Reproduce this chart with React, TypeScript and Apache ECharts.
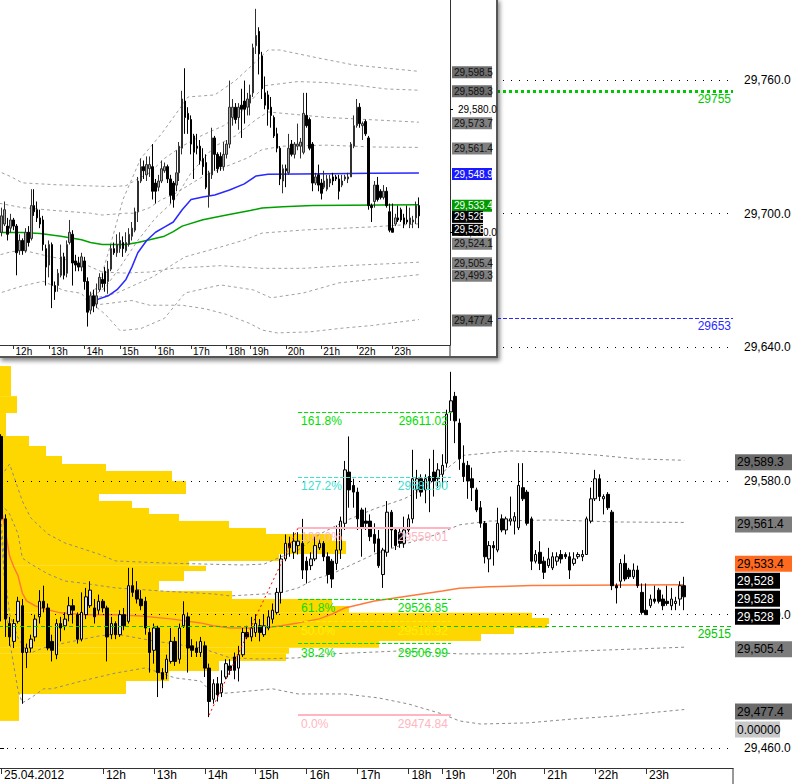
import React, { useEffect, useRef } from 'react';
import * as echarts from 'echarts';

// ---------------- data ----------------
// 5-minute bars of 25.04.2012: [open, high, low, close]
const candles: number[][] = [
  [29600, 29601, 29517, 29563], [29563, 29565, 29510, 29518], [29516, 29519, 29506, 29510], [29508, 29518, 29505, 29516],
  [29517, 29528, 29516, 29526], [29524, 29527, 29480, 29503], [29503, 29507, 29496, 29505], [29505, 29511, 29503, 29509],
  [29510, 29520, 29508, 29518], [29519, 29531, 29516, 29526], [29526, 29533, 29521, 29523], [29523, 29525, 29504, 29505],
  [29508, 29511, 29499, 29504], [29502, 29518, 29500, 29516], [29516, 29519, 29508, 29514], [29515, 29521, 29513, 29518],
  [29520, 29528, 29517, 29524], [29524, 29527, 29516, 29522], [29520, 29521, 29507, 29509], [29509, 29530, 29508, 29521],
  [29520, 29532, 29518, 29528], [29524, 29535, 29523, 29531], [29523, 29527, 29516, 29519], [29522, 29529, 29520, 29526],
  [29526, 29527, 29521, 29523], [29523, 29524, 29499, 29510], [29511, 29519, 29509, 29516], [29516, 29517, 29509, 29511],
  [29511, 29522, 29510, 29520], [29520, 29523, 29513, 29515], [29517, 29541, 29516, 29533], [29533, 29541, 29528, 29530],
  [29531, 29535, 29525, 29527], [29527, 29531, 29522, 29524], [29526, 29528, 29511, 29514], [29512, 29514, 29494, 29503],
  [29504, 29516, 29498, 29514], [29514, 29515, 29483, 29494], [29494, 29496, 29487, 29491], [29494, 29502, 29491, 29500],
  [29499, 29514, 29498, 29508], [29508, 29510, 29497, 29499], [29500, 29516, 29498, 29514], [29515, 29526, 29514, 29520],
  [29519, 29521, 29494, 29505], [29506, 29509, 29501, 29504], [29505, 29508, 29501, 29503], [29503, 29510, 29501, 29508],
  [29506, 29508, 29492, 29496], [29496, 29498, 29474, 29481], [29482, 29491, 29480, 29489], [29489, 29492, 29481, 29484],
  [29485, 29495, 29483, 29489], [29492, 29500, 29491, 29498], [29497, 29500, 29493, 29495], [29501, 29503, 29491, 29495],
  [29496, 29506, 29490, 29502], [29502, 29514, 29501, 29512], [29512, 29515, 29509, 29510], [29510, 29519, 29508, 29514],
  [29512, 29520, 29510, 29516], [29515, 29518, 29508, 29512], [29511, 29520, 29510, 29515], [29514, 29522, 29513, 29519],
  [29518, 29525, 29516, 29522], [29521, 29532, 29520, 29530], [29530, 29547, 29525, 29545], [29545, 29556, 29544, 29552],
  [29552, 29555, 29546, 29550], [29548, 29557, 29545, 29553], [29551, 29557, 29547, 29553], [29552, 29563, 29536, 29540],
  [29544, 29546, 29534, 29540], [29542, 29548, 29540, 29545], [29545, 29555, 29544, 29551], [29550, 29554, 29549, 29552],
  [29552, 29553, 29544, 29546], [29546, 29548, 29534, 29538], [29544, 29545, 29532, 29536], [29543, 29560, 29540, 29549],
  [29549, 29564, 29545, 29562], [29561, 29589, 29558, 29585], [29584, 29600, 29568, 29576], [29578, 29581, 29568, 29575],
  [29575, 29577, 29558, 29563], [29567, 29568, 29546, 29559], [29562, 29568, 29558, 29561], [29562, 29565, 29553, 29555],
  [29556, 29561, 29548, 29552], [29554, 29558, 29541, 29542], [29538, 29550, 29532, 29549], [29548, 29571, 29546, 29566],
  [29566, 29567, 29550, 29558], [29558, 29559, 29549, 29551], [29557, 29559, 29550, 29552], [29552, 29564, 29550, 29558],
  [29558, 29565, 29556, 29563], [29563, 29594, 29561, 29581], [29576, 29585, 29572, 29581], [29581, 29583, 29573, 29575],
  [29576, 29583, 29570, 29581], [29582, 29590, 29566, 29580], [29584, 29594, 29573, 29580], [29581, 29588, 29577, 29585],
  [29583, 29592, 29577, 29587], [29588, 29612, 29586, 29610], [29611, 29629, 29607, 29616], [29618, 29620, 29597, 29607],
  [29606, 29608, 29585, 29590], [29588, 29596, 29580, 29582], [29587, 29589, 29572, 29580], [29581, 29586, 29571, 29577],
  [29576, 29577, 29566, 29567], [29568, 29571, 29559, 29561], [29561, 29562, 29543, 29546], [29545, 29553, 29539, 29551],
  [29551, 29553, 29542, 29550], [29549, 29568, 29548, 29561], [29563, 29565, 29557, 29558], [29558, 29564, 29556, 29563],
  [29562, 29573, 29560, 29563], [29562, 29566, 29556, 29564], [29559, 29588, 29558, 29578], [29577, 29588, 29571, 29572],
  [29575, 29576, 29560, 29561], [29563, 29564, 29540, 29544], [29544, 29549, 29543, 29547], [29548, 29553, 29540, 29543],
  [29544, 29546, 29536, 29539], [29542, 29550, 29541, 29545], [29541, 29548, 29540, 29546], [29544, 29548, 29542, 29546],
  [29547, 29549, 29543, 29545], [29547, 29548, 29545, 29546], [29546, 29548, 29536, 29540], [29543, 29548, 29542, 29545],
  [29546, 29548, 29545, 29547], [29546, 29549, 29544, 29547], [29547, 29564, 29547, 29563], [29562, 29577, 29561, 29572],
  [29572, 29585, 29571, 29581], [29581, 29583, 29571, 29573], [29572, 29574, 29565, 29573], [29574, 29575, 29567, 29568],
  [29566, 29567, 29531, 29533], [29533, 29534, 29525, 29532], [29535, 29545, 29532, 29543], [29543, 29547, 29535, 29536],
  [29540, 29541, 29536, 29537], [29537, 29543, 29536, 29540], [29540, 29542, 29532, 29533], [29530, 29534, 29520, 29521],
  [29522, 29534, 29520, 29520], [29524, 29529, 29523, 29527], [29527, 29533, 29525, 29526], [29531, 29532, 29525, 29526],
  [29527, 29529, 29522, 29524], [29526, 29533, 29524, 29525], [29524, 29532, 29522, 29527], [29525, 29528, 29522, 29526],
  [29527, 29535, 29524, 29533], [29533, 29537, 29522, 29528],
];

// time axis labels: [bar index, label]
const hourTicks: [number, string][] = [
  [0, '25.04.2012'], [24, '12h'], [36, '13h'], [48, '14h'], [60, '15h'], [72, '16h'], [84, '17h'],
  [96, '18h'], [104, '19h'], [116, '20h'], [128, '21h'], [140, '22h'], [152, '23h'],
];

const mainPriceTicks = [29460, 29520, 29580, 29640, 29700, 29760];
const insetPriceTicks = [29520, 29580];

// session VWAP (orange in main chart, green in inset): [bar index, price]
const vwapSession: number[][] = [
  [0, 29568], [1, 29557.6], [2, 29546.3], [3, 29541.4], [4, 29537.4], [5, 29529.7], [6, 29526.2], [8, 29524],
  [10, 29522.6], [14, 29520.8], [20, 29519.9], [27, 29519.9], [33, 29519.4], [40, 29518.1], [47, 29516.3],
  [50, 29515], [54, 29514], [62, 29514], [66, 29515], [70, 29516.3], [75, 29518.1], [78, 29520.3], [81, 29523],
  [88, 29526.1], [96, 29528.4], [104, 29530.6], [108, 29531.8], [115, 29532.5], [125, 29533.1], [161, 29533.4],
];
const sessionUpper2: number[][] = [
  [0, 29582.2], [2, 29587.6], [5, 29571], [7, 29563.4], [11, 29556.2], [15, 29552.2], [23, 29547.2], [27, 29544.1],
  [38, 29543.2], [48, 29542.7], [57, 29542.3], [62, 29542.7], [66, 29546], [70, 29549], [75, 29556], [81, 29562],
  [88, 29567.5], [95, 29572], [100, 29577], [103, 29582], [106, 29587], [109, 29591.5], [120, 29593.5], [130, 29593],
  [140, 29591.7], [150, 29589.9], [161, 29589.3],
];
const sessionUpper1: number[][] = [
  [0, 29569.7], [2, 29565.2], [4, 29556.2], [5, 29545.4], [7, 29542.7], [11, 29538.3], [15, 29535.1], [19, 29534.2],
  [27, 29532], [38, 29530.6], [50, 29529.3], [54, 29528.4], [62, 29529.3], [65, 29529.3], [70, 29532], [74, 29536],
  [78, 29538.3], [81, 29541], [88, 29547.2], [96, 29552.2], [103, 29556.2], [108, 29560.3], [115, 29562],
  [130, 29562.5], [145, 29561.6], [161, 29561.4],
];
const sessionLower1: number[][] = [
  [0, 29563.4], [1, 29536.5], [2, 29520.3], [4, 29509.5], [6, 29503.7], [7, 29502.8], [10, 29505.1], [15, 29507.3],
  [23, 29510.4], [27, 29511.3], [36, 29508.2], [47, 29505.1], [54, 29500.6], [61, 29500.1], [70, 29500.6],
  [78, 29502.4], [94, 29503.7], [108, 29502.4], [122, 29502.4], [136, 29503.7], [150, 29504.6], [161, 29505.4],
];
const sessionLower2: number[][] = [
  [0, 29557.6], [1, 29529.3], [2, 29508.2], [3, 29497], [4, 29485.8], [5, 29480.4], [7, 29482.6], [10, 29486.7],
  [12, 29486.7], [19, 29490.2], [27, 29493.8], [34, 29496.1], [41, 29491.6], [47, 29490.2], [50, 29484.4],
  [54, 29484.9], [64, 29486.7], [70, 29484.4], [81, 29484.4], [89, 29482.6], [96, 29479.9], [104, 29475.4],
  [108, 29472.3], [113, 29470.9], [124, 29471.4], [135, 29473.2], [145, 29474.5], [161, 29477.4],
];

// VWAP anchored at the 14h low (blue, inset only) and its bands
const vwapFrom14h: number[][] = [
  [49, 29485], [52, 29487], [56, 29489], [59, 29492], [62, 29497], [64, 29503], [66, 29510], [69, 29516],
  [72, 29520], [75, 29522.5], [78, 29525], [81, 29531], [84, 29536], [88, 29537.2], [92, 29538.2], [97, 29540.6],
  [102, 29543.6], [106, 29547.5], [110, 29548.3], [130, 29548.6], [145, 29548.8], [161, 29548.9],
];
const anchoredUpper2: number[][] = [
  [49, 29487], [53, 29495], [57, 29515], [61, 29536], [67, 29556], [74, 29568], [83, 29586], [92, 29587],
  [99, 29594], [105, 29602], [110, 29608.9], [114, 29608.9], [127, 29605], [139, 29601.6], [161, 29598.5],
];
const anchoredUpper1: number[][] = [
  [49, 29487], [55, 29493], [60, 29503], [66, 29516], [72, 29527], [78, 29535], [84, 29549], [92, 29562],
  [99, 29567], [106, 29575], [110, 29578.7], [130, 29576], [161, 29573.7],
];
const anchoredLower1: number[][] = [
  [49, 29487], [59, 29490.4], [71, 29498.2], [82, 29508], [94, 29512.8], [102, 29516.2], [108, 29519.6],
  [122, 29521.1], [145, 29522.6], [161, 29524.1],
];
const anchoredLower2: number[][] = [
  [49, 29487], [55, 29480], [60, 29472], [67, 29473], [75, 29478], [82, 29490.4], [94, 29494.3], [105, 29491.9],
  [111, 29488], [122, 29490.4], [134, 29495.3], [161, 29499.3],
];

// volume profile: [low price, high price, volume]
const profileRows: number[][] = [
  [29618.1, 29631.6, 12], [29610.5, 29618.1, 18], [29600.2, 29610.5, 7], [29595.7, 29600.2, 30],
  [29591.2, 29595.7, 47], [29587.6, 29591.2, 63], [29584.5, 29587.6, 107], [29580, 29584.5, 173],
  [29574.2, 29580, 187], [29571, 29574.2, 100], [29567.9, 29571, 133], [29565.2, 29567.9, 150],
  [29562, 29565.2, 180], [29558.9, 29562, 230], [29556.2, 29558.9, 267], [29553.1, 29556.2, 333],
  [29547.2, 29553.1, 347], [29544.1, 29547.2, 280], [29541.9, 29544.1, 190], [29539.6, 29541.9, 207],
  [29535.1, 29539.6, 185], [29530.6, 29535.1, 160], [29527, 29530.6, 233], [29523.9, 29527, 333],
  [29520.8, 29523.9, 350], [29518.5, 29520.8, 533], [29515.8, 29518.5, 550], [29514, 29515.8, 548],
  [29511.3, 29514, 515], [29508.2, 29511.3, 482], [29505.1, 29508.2, 380], [29502.4, 29505.1, 290],
  [29499.2, 29502.4, 287], [29494.7, 29499.2, 220], [29490.2, 29494.7, 170], [29484.4, 29490.2, 127],
  [29472.3, 29484.4, 20],
];

// Fibonacci retracement / extension
const fibRatios = ['161.8%', '127.2%', '100.0%', '61.8%', '50.0%', '38.2%', '0.0%'];
const fibPrices = [29611.02, 29581.9, 29559.01, 29526.85, 29516.92, 29506.99, 29474.84];
const fibAnchorBars = [49, 70, 106]; // low bar, high bar, end of levels

// horizontal alert levels
const alertLevels = [29755, 29653, 29515];

// price markers on the right scales
const mainMarkerValues = [29589.3, 29561.4, 29533.4, 29528, 29528, 29528, 29505.4, 29477.4];
const insetMarkerValues = [29598.5, 29589.3, 29573.7, 29561.4, 29548.9, 29533.4, 29528, 29528, 29524.1, 29505.4, 29499.3, 29477.4];

// ---------------- styles ----------------
const FONT = 'Liberation Sans, Arial, sans-serif';
const fmt = (v: number, d: number) =>
  v.toLocaleString('en-US', { minimumFractionDigits: d, maximumFractionDigits: d });

const fibColors = ['#00e000', '#40e0d0', '#ffb6c1', '#00e000', '#ffee00', '#00e000', '#ffb6c1'];
const fibSolid = [false, false, true, false, false, false, true];
const alertColors = ['#00c800', '#2a2aff', '#00c800'];
const alertStyles: any[] = [
  { type: [3, 3], width: 3 },
  { type: [4, 2], width: 1 },
  { type: [4, 3], width: 1 },
];

const mainMarkerStyle = [
  { bg: '#6b6b6b', fg: '#000', d: 1, w: 57, dy: 2 },
  { bg: '#7c7c7c', fg: '#000', d: 1, w: 57, dy: 2 },
  { bg: '#ff6a1f', fg: '#000', d: 1, w: 57, dy: -21 },
  { bg: '#000', fg: '#fff', d: 0, w: 45, dy: -16 },
  { bg: '#000', fg: '#fff', d: 0, w: 45, dy: 2 },
  { bg: '#000', fg: '#fff', d: 0, w: 45, dy: 20 },
  { bg: '#7c7c7c', fg: '#000', d: 1, w: 57, dy: 2 },
  { bg: '#6b6b6b', fg: '#000', d: 1, w: 57, dy: 2 },
];
const insetMarkerStyle = [
  { bg: '#6e6e6e', fg: '#111', d: 1, w: 40, dy: 1 },
  { bg: '#6e6e6e', fg: '#111', d: 1, w: 40, dy: 1 },
  { bg: '#808080', fg: '#111', d: 1, w: 40, dy: 1 },
  { bg: '#808080', fg: '#111', d: 1, w: 40, dy: 1 },
  { bg: '#1a1aff', fg: '#fff', d: 1, w: 40, dy: 1 },
  { bg: '#009a00', fg: '#fff', d: 1, w: 40, dy: 1 },
  { bg: '#000', fg: '#fff', d: 0, w: 31, dy: 1 },
  { bg: '#000', fg: '#fff', d: 0, w: 31, dy: 14 },
  { bg: '#808080', fg: '#111', d: 1, w: 40, dy: 20 },
  { bg: '#808080', fg: '#111', d: 1, w: 40, dy: 1 },
  { bg: '#808080', fg: '#111', d: 1, w: 40, dy: 1 },
  { bg: '#6e6e6e', fg: '#111', d: 1, w: 40, dy: 1 },
];

const N_MAIN = 173;
const N_INSET = 172;
const mainCats = Array.from({ length: N_MAIN }, (_, i) => String(i));
const insetCats = Array.from({ length: N_INSET }, (_, i) => String(i));
const tickMap = new Map<number, string>(hourTicks);
const insetTickMap = new Map<number, string>(hourTicks.filter(([i]) => i > 0));

function lineSeries(data: number[][], axis: number, color: string, width: number, type: any, z: number) {
  return {
    type: 'line', xAxisIndex: axis, yAxisIndex: axis, data, symbol: 'none', silent: true, z,
    lineStyle: { color, width, type }, animation: false,
  };
}

function buildOption(): any {
  const ec = candles.map(([o, h, l, c]) => [o, c, l, h]);

  const gridMarks = mainPriceTicks.map((v) => ({
    yAxis: v, lineStyle: { color: '#000', type: [1, 7], width: 1 }, label: { show: false },
  }));
  const alertMarks = alertLevels.map((v, k) => ({
    yAxis: v,
    lineStyle: { color: alertColors[k], ...alertStyles[k] },
    label: {
      show: true, position: 'insideEndBottom', formatter: String(v), color: alertColors[k],
      fontSize: 12, fontFamily: FONT, distance: 2,
    },
  }));
  const [lowBar, highBar, endBar] = fibAnchorBars;
  const fibMarks: any[] = [];
  fibPrices.forEach((p, k) => {
    const ls = { color: fibColors[k], type: fibSolid[k] ? 'solid' : [4, 2], width: fibSolid[k] ? 2 : 1 };
    fibMarks.push([
      { coord: [highBar, p], lineStyle: ls, label: { show: true, position: 'insideStartBottom', formatter: fibRatios[k], color: fibColors[k], fontSize: 12, fontFamily: FONT, distance: 3 } },
      { coord: [endBar, p] },
    ]);
    fibMarks.push([
      { coord: [highBar, p], lineStyle: ls, label: { show: true, position: 'insideEndBottom', formatter: p.toFixed(2), color: fibColors[k], fontSize: 12, fontFamily: FONT, distance: 3 } },
      { coord: [endBar, p] },
    ]);
  });
  const redLine = [
    { coord: [lowBar, fibPrices[6]], lineStyle: { color: '#ff0000', type: [2, 3], width: 1 }, label: { show: false } },
    { coord: [highBar, fibPrices[2]] },
  ];

  const bandGray = '#8a8a8a';
  const insetGray = '#a0a0a0';

  return {
    animation: false,
    backgroundColor: '#ffffff',
    grid: [
      { left: -1, top: 0, width: 734, height: 768, outerBoundsMode: 'none', containLabel: false },
      { left: -59, top: 0, width: 509, height: 345, outerBoundsMode: 'none', containLabel: false },
    ],
    xAxis: [
      {
        type: 'category', gridIndex: 0, data: mainCats, boundaryGap: true,
        axisLine: { show: true, lineStyle: { color: '#333', width: 1 } },
        axisTick: { show: true, alignWithLabel: true, interval: (i: number) => tickMap.has(i), length: 6, lineStyle: { color: '#333' } },
        axisLabel: {
          interval: (i: number) => tickMap.has(i), formatter: (_v: string, i: number) => tickMap.get(i) || '',
          align: 'left', margin: 1, padding: [0, 0, 0, 3], fontSize: 12, color: '#000', fontFamily: FONT,
        },
        splitLine: { show: false },
      },
      {
        type: 'category', gridIndex: 1, data: insetCats, boundaryGap: true, z: 12,
        axisLine: { show: true, lineStyle: { color: '#333', width: 1 } },
        axisTick: { show: true, alignWithLabel: true, interval: (i: number) => insetTickMap.has(i), length: 4, lineStyle: { color: '#333' } },
        axisLabel: {
          interval: (i: number) => insetTickMap.has(i), formatter: (_v: string, i: number) => insetTickMap.get(i) || '',
          align: 'left', margin: 1, padding: [0, 0, 0, 2], fontSize: 10, color: '#000', fontFamily: FONT,
        },
        splitLine: { show: false },
      },
      { type: 'value', gridIndex: 0, min: 0, max: 734, show: false },
    ],
    yAxis: [
      {
        type: 'value', gridIndex: 0, position: 'right', min: 29451.16, max: 29795.91,
        axisLine: { show: true, lineStyle: { color: '#333', width: 1 } },
        axisTick: { show: true, customValues: mainPriceTicks, length: 5, lineStyle: { color: '#000' } },
        axisLabel: { customValues: mainPriceTicks, formatter: (v: number) => fmt(v, 1), margin: 11, fontSize: 12, color: '#000', fontFamily: FONT },
        splitLine: { show: false },
      },
      {
        type: 'value', gridIndex: 1, position: 'right', min: 29465.0, max: 29633.3, z: 12,
        axisLine: { show: true, lineStyle: { color: '#333', width: 1 } },
        axisTick: { show: true, customValues: insetPriceTicks, length: 3, lineStyle: { color: '#000' } },
        axisLabel: { customValues: insetPriceTicks, formatter: (v: number) => fmt(v, 1), margin: 8, fontSize: 10, color: '#000', fontFamily: FONT },
        splitLine: { show: false },
      },
    ],
    series: [
      {
        type: 'custom', xAxisIndex: 2, yAxisIndex: 0, z: 1, silent: true,
        data: profileRows, encode: { x: 2, y: [0, 1] },
        renderItem: (_p: any, api: any) => {
          const lo = api.value(0), hi = api.value(1), v = api.value(2);
          const a = api.coord([0, hi]);
          const b = api.coord([v, lo]);
          return { type: 'rect', shape: { x: a[0], y: a[1], width: b[0] - a[0], height: b[1] - a[1] }, style: { fill: '#ffd700' } };
        },
      },
      lineSeries(sessionUpper2, 0, bandGray, 1, [3, 3], 2),
      lineSeries(sessionUpper1, 0, bandGray, 1, [3, 3], 2),
      lineSeries(sessionLower1, 0, bandGray, 1, [3, 3], 2),
      lineSeries(sessionLower2, 0, bandGray, 1, [3, 3], 2),
      lineSeries(vwapSession, 0, '#ff7a3a', 1.5, 'solid', 2),
      {
        type: 'candlestick', xAxisIndex: 0, yAxisIndex: 0, data: ec, barWidth: 3, z: 3, silent: true,
        itemStyle: { color: '#e4e4e4', color0: '#000', borderColor: '#000', borderColor0: '#000', borderColorDoji: '#000', borderWidth: 1 },
        markLine: {
          silent: true, symbol: ['none', 'none'], animation: false,
          data: [...gridMarks, ...alertMarks, ...fibMarks, redLine],
        },
      },
      // inset
      lineSeries(sessionUpper2, 1, insetGray, 1, [3, 3], 12),
      lineSeries(sessionUpper1, 1, insetGray, 1, [3, 3], 12),
      lineSeries(sessionLower1, 1, insetGray, 1, [3, 3], 12),
      lineSeries(sessionLower2, 1, insetGray, 1, [3, 3], 12),
      lineSeries(anchoredUpper2, 1, insetGray, 1, [3, 3], 12),
      lineSeries(anchoredUpper1, 1, insetGray, 1, [3, 3], 12),
      lineSeries(anchoredLower1, 1, insetGray, 1, [3, 3], 12),
      lineSeries(anchoredLower2, 1, insetGray, 1, [3, 3], 12),
      lineSeries(vwapSession, 1, '#00a000', 1.5, 'solid', 13),
      lineSeries(vwapFrom14h, 1, '#2828ff', 1.5, 'solid', 13),
      {
        type: 'candlestick', xAxisIndex: 1, yAxisIndex: 1, data: ec, barWidth: 2, z: 14, silent: true,
        itemStyle: { color: '#a8a8a8', color0: '#000', borderColor: '#303030', borderColor0: '#000', borderColorDoji: '#000', borderWidth: 1 },
        markLine: {
          silent: true, symbol: ['none', 'none'], animation: false,
          data: insetPriceTicks.map((v) => ({ yAxis: v, lineStyle: { color: '#000', type: [1, 6], width: 1 }, label: { show: false } })),
        },
      },
    ],
  };
}

function markerBoxes(chart: any, axis: number, values: number[], styles: any[], x: number, h: number, fs: number, idp: string) {
  return values.map((v, k) => {
    const s = styles[k];
    const y = chart.convertToPixel({ yAxisIndex: axis }, v) + s.dy;
    return {
      type: 'group', id: idp + k, z: 30,
      children: [
        { type: 'rect', z: 30, shape: { x, y: y - h / 2, width: s.w, height: h }, style: { fill: s.bg } },
        { type: 'text', z: 31, x: x + 2, y, style: { text: fmt(v, s.d), fill: s.fg, fontSize: fs, fontFamily: FONT, verticalAlign: 'middle', align: 'left' } },
      ],
    };
  });
}

export default function App() {
  const ref = useRef<HTMLDivElement>(null);
  useEffect(() => {
    const chart = echarts.init(ref.current!, undefined, { renderer: 'svg' });
    chart.setOption(buildOption());
    const statics: any[] = [
      {
        type: 'rect', id: 'insetBg', z: 10, shape: { x: -2, y: -2, width: 499, height: 360 },
        style: { fill: '#fff', shadowBlur: 4, shadowColor: 'rgba(0,0,0,0.45)', shadowOffsetX: 3, shadowOffsetY: 3 },
      },
      { type: 'line', id: 'insetR', z: 11, shape: { x1: 497, y1: 0, x2: 497, y2: 358 }, style: { stroke: '#555', lineWidth: 2 } },
      { type: 'line', id: 'insetB', z: 11, shape: { x1: 0, y1: 357, x2: 497, y2: 357 }, style: { stroke: '#555', lineWidth: 2 } },
      { type: 'line', id: 'insetSep', z: 11, shape: { x1: 450, y1: 345, x2: 450, y2: 356 }, style: { stroke: '#333', lineWidth: 1 } },
      { type: 'line', id: 'mainAxisExt', z: 5, shape: { x1: 733, y1: 768, x2: 733, y2: 784 }, style: { stroke: '#333', lineWidth: 1 } },
    ];
    const boxes = [
      ...markerBoxes(chart, 0, mainMarkerValues, mainMarkerStyle, 735, 16, 12, 'mb'),
      ...markerBoxes(chart, 1, insetMarkerValues, insetMarkerStyle, 452, 12, 10, 'ib'),
    ];
    // "0.00000" indicator box beneath the lowest band marker
    const yZero = chart.convertToPixel({ yAxisIndex: 0 }, mainMarkerValues[7]) + 20;
    boxes.push({
      type: 'group', id: 'zeroBox', z: 30,
      children: [
        { type: 'rect', z: 30, shape: { x: 735, y: yZero - 8, width: 45, height: 16 }, style: { fill: '#c8c8c8' } },
        { type: 'text', z: 31, x: 737, y: yZero, style: { text: '0.00000', fill: '#000', fontSize: 12, fontFamily: FONT, verticalAlign: 'middle', align: 'left' } },
      ],
    } as any);
    chart.setOption({ graphic: { elements: [...statics, ...boxes] } });
    return () => chart.dispose();
  }, []);
  return (
    <div
      ref={ref}
      style={{ position: 'fixed', left: 0, top: 0, width: 800, height: 784, background: '#fff' }}
    />
  );
}
